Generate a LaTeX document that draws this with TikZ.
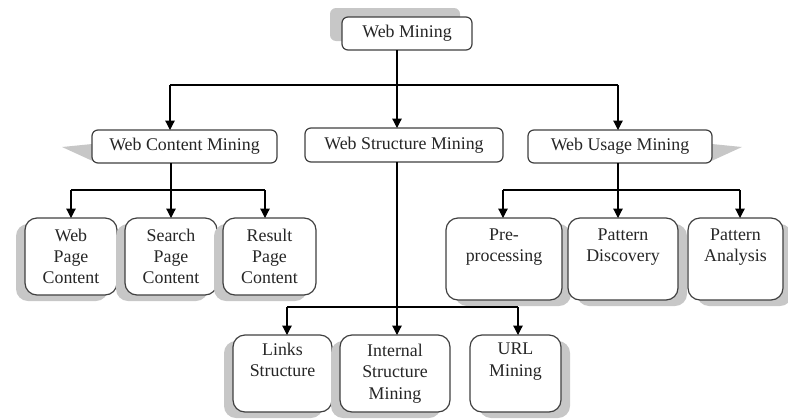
\documentclass[tikz,border=0pt]{standalone}
\usepackage{fontspec}
\setmainfont{Liberation Serif}
\usetikzlibrary{arrows.meta,shadows}

\tikzset{every picture/.style={line width=0.75pt}}
\tikzset{
  box/.style={draw=black!75, line width=0.9pt, fill=white, rounded corners=4.5pt,
    inner sep=0pt, outer sep=0pt, align=center, text=black!85,
    font=\fontsize{13.4}{16}\selectfont},
  leaf/.style={box, rounded corners=9pt},
  shadeL/.style={drop shadow={shadow xshift=-6.75pt, shadow yshift=-4.5pt, opacity=1, fill=black!22}},
  shadeR/.style={drop shadow={shadow xshift=6.75pt, shadow yshift=-4.5pt, opacity=1, fill=black!22}},
  shadeUp/.style={drop shadow={shadow xshift=-9pt, shadow yshift=6.75pt, opacity=1, fill=black!22}},
  arr/.style={-{Triangle[length=7pt,width=7pt]}, line width=0.9pt},
  link/.style={line width=0.9pt}
}

\begin{document}
\begin{tikzpicture}[x=0.75pt,y=0.75pt,yscale=-1,xscale=1]
\useasboundingbox (0,0) rectangle (788,418);

% Top Node
\node (wm) at (407,33.5) [box, shadeUp, minimum width=97.5pt, minimum height=24.75pt] {Web Mining};

%Shape: wedge shadows
\fill[black!22] (62,147) -- (92,144) -- (97,163) -- cycle ;
\fill[black!22] (742,147) -- (712,144) -- (707,163) -- cycle ;

% Second level
\node (wcm) at (184.5,146.5) [box, minimum width=138.75pt, minimum height=24.75pt] {Web Content Mining};
\node (wsm) at (404,145) [box, minimum width=148.5pt, minimum height=25.5pt] {Web Structure Mining};
\node (wum) at (620,146.5) [box, minimum width=138pt, minimum height=24.75pt] {Web Usage Mining};

% Content leaves
\node (wpc) at (71,256.5) [leaf, shadeL, minimum width=69pt, minimum height=57.75pt] {Web\\Page\\Content};
\node (spc) at (171,256.5) [leaf, shadeL, minimum width=69pt, minimum height=57.75pt] {Search\\Page\\Content};
\node (rpc) at (269.5,256.5) [leaf, shadeL, minimum width=69.75pt, minimum height=57.75pt] {Result\\Page\\Content};

% Usage leaves
\node (pre) at (504,259) [leaf, shadeR, minimum width=87pt, minimum height=61.5pt] {Pre-\\processing\\\strut};
\node (pdi) at (623,259) [leaf, shadeR, minimum width=82.5pt, minimum height=61.5pt] {Pattern\\Discovery\\\strut};
\node (pan) at (735.5,259) [leaf, shadeR, minimum width=71.25pt, minimum height=61.5pt] {Pattern\\Analysis\\\strut};

% Structure leaves
\node (lst) at (282.5,373.5) [leaf, shadeL, minimum width=74.25pt, minimum height=57.75pt] {Links\\Structure\\\strut};
\node (ism) at (395,373.5) [leaf, shadeL, minimum width=82.5pt, minimum height=57.75pt] {Internal\\Structure\\Mining};
\node (url) at (515.5,373.5) [leaf, shadeR, minimum width=68.25pt, minimum height=57.75pt] {URL\\Mining\\\strut};

% Junctions
\coordinate (j1) at (397,85);
\coordinate (jl) at (170,85);
\coordinate (jr) at (618,85);
\coordinate (c1) at (171,190);
\coordinate (cl) at (71,190);
\coordinate (cr) at (265,190);
\coordinate (u1) at (618,190);
\coordinate (ul) at (503,190);
\coordinate (ur) at (740,190);
\coordinate (s1) at (397,307);
\coordinate (sl) at (287,307);
\coordinate (sr) at (518,307);

% Connectors level 1
\draw[link] (j1 |- wm.south) -- (j1);
\draw[link] (jl) -- (jr);
\draw[arr] (jl) -- (jl |- wcm.north);
\draw[arr] (j1) -- (j1 |- wsm.north);
\draw[arr] (jr) -- (jr |- wum.north);

% Connectors content
\draw[link] (c1 |- wcm.south) -- (c1);
\draw[link] (cl) -- (cr);
\draw[arr] (cl) -- (cl |- wpc.north);
\draw[arr] (c1) -- (c1 |- spc.north);
\draw[arr] (cr) -- (cr |- rpc.north);

% Connectors usage
\draw[link] (u1 |- wum.south) -- (u1);
\draw[link] (ul) -- (ur);
\draw[arr] (ul) -- (ul |- pre.north);
\draw[arr] (u1) -- (u1 |- pdi.north);
\draw[arr] (ur) -- (ur |- pan.north);

% Connectors structure
\draw[link] (s1 |- wsm.south) -- (s1);
\draw[link] (sl) -- (sr);
\draw[arr] (sl) -- (sl |- lst.north);
\draw[arr] (s1) -- (s1 |- ism.north);
\draw[arr] (sr) -- (sr |- url.north);

\end{tikzpicture}
\end{document}
